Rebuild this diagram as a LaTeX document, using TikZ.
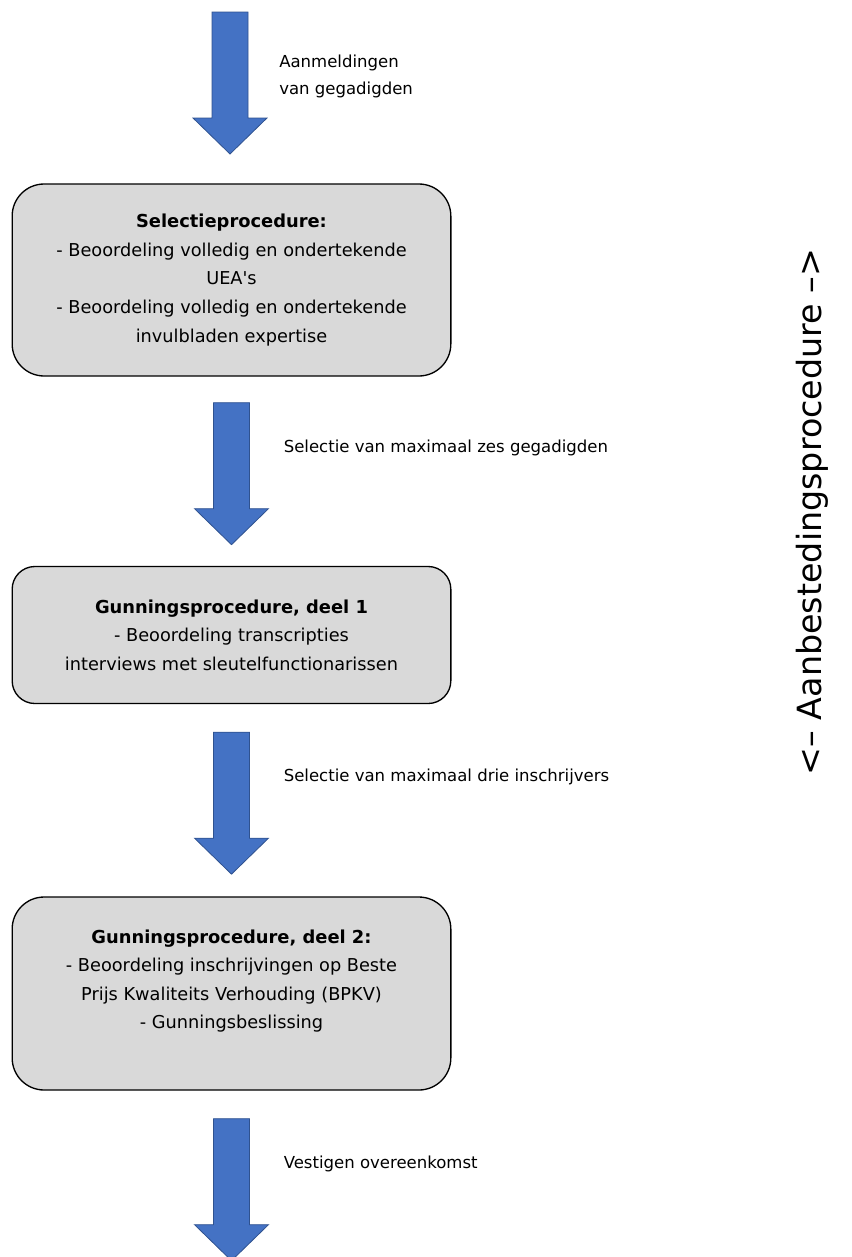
\documentclass[tikz,border=0pt]{standalone}
\usepackage{fontspec}
\setmainfont{DejaVu Sans}[Ligatures=TeXOff]
\usetikzlibrary{positioning}

\definecolor{flowblue}{HTML}{4472C4}
\definecolor{flowblueedge}{HTML}{2F528F}
\definecolor{boxgrey}{HTML}{D9D9D9}

\begin{document}
\begin{tikzpicture}[x=0.75pt,y=-0.75pt,
  font=\fontsize{12.4}{21.4}\selectfont,
  blockarrow/.pic={
    \path[draw=flowblueedge,fill=flowblue,line width=0.6pt]
      (-18,0) -- (18,0) -- (18,106) -- (37,106) -- (0,142)
      -- (-37,106) -- (-18,106) -- cycle;
  }]
  \tikzstyle{box}=[draw=black,fill=boxgrey,line width=1pt,minimum width=329pt,
    align=center,inner sep=0pt,font=\fontsize{13.3}{21.4}\selectfont]
  \tikzstyle{lbl}=[anchor=west,align=left,inner sep=0pt]
  \useasboundingbox (0,0) rectangle (851,1257);

  \node[box,rounded corners=24pt,minimum height=144pt] (sel) at (231.5,280)
    {{\fontsize{13.4}{21.4}\selectfont\bfseries Selectieprocedure:}\\
     - Beoordeling volledig en ondertekende\\
     UEA's\\
     - Beoordeling volledig en ondertekende\\
     invulbladen expertise};
  \node[box,rounded corners=17pt,minimum height=102.75pt] (gun1) at (231.5,635)
    {{\fontsize{13.4}{21.4}\selectfont\bfseries Gunningsprocedure, deel 1}\\
     - Beoordeling transcripties\\
     interviews met sleutelfunctionarissen};
  \node[box,rounded corners=24pt,minimum height=144.75pt] (gun2) at (231.5,993.5)
    {{\fontsize{13.4}{21.4}\selectfont\bfseries Gunningsprocedure, deel 2:}\\
     - Beoordeling inschrijvingen op Beste\\
     Prijs Kwaliteits Verhouding (BPKV)\\
     - Gunningsbeslissing\\
     \mbox{}};

  % block arrows between the steps
  \coordinate (t1) at (230,12);
  \coordinate (t2) at ([yshift=-19.5pt]sel.south);
  \coordinate (t3) at ([yshift=-21pt]gun1.south);
  \coordinate (t4) at ([yshift=-21pt]gun2.south);
  \pic at (t1) {blockarrow};
  \pic at (t2) {blockarrow};
  \pic at (t3) {blockarrow};
  \pic at (t4) {blockarrow};

  \node[lbl,font=\fontsize{12.4}{20.3}\selectfont] (l1) at ([shift={(49,64.5)}]t1)
    {Aanmeldingen\\van gegadigden};
  \node[lbl] (l2) at ([shift={(52,45)}]t2) {Selectie van maximaal zes gegadigden};
  \node[lbl] (l3) at ([shift={(52,45)}]t3) {Selectie van maximaal drie inschrijvers};
  \node[lbl] (l4) at ([shift={(52,45)}]t4) {Vestigen overeenkomst};

  \node[rotate=90,font=\fontsize{25}{30}\selectfont] (proc) at (812,512)
    {<– Aanbestedingsprocedure –>};
\end{tikzpicture}
\end{document}
